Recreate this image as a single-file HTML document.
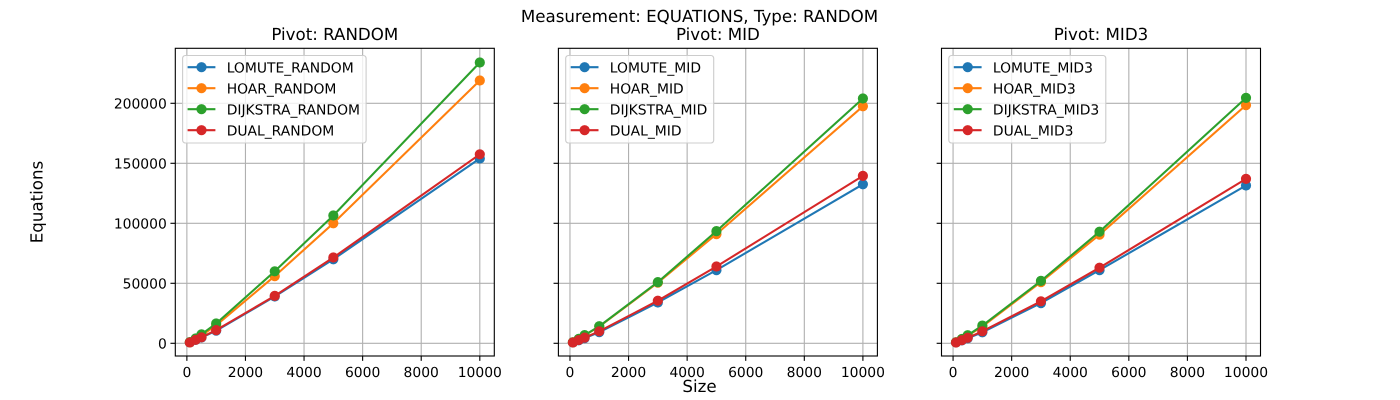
<!DOCTYPE html>
<html>
<head>
<meta charset="utf-8">
<title>Measurement: EQUATIONS, Type: RANDOM</title>
<style>
html,body{margin:0;padding:0;background:#fff;width:1400px;height:400px;overflow:hidden}
svg{display:block}
text{font-family:"DejaVu Sans",sans-serif;fill:#000;text-rendering:geometricPrecision}
</style>
</head>
<body>
<svg id="figure" xmlns="http://www.w3.org/2000/svg" width="1400" height="400" viewBox="0 0 1400 400">
  <text x="699.5" y="22" font-size="16.67" text-anchor="middle">Measurement: EQUATIONS, Type: RANDOM</text>
  <text x="699.5" y="392" font-size="16.67" text-anchor="middle">Size</text>
  <text x="42.5" y="202" font-size="16.67" text-anchor="middle" transform="rotate(-90 42.5 202)">Equations</text>
</svg>
<script>
const sizes = [100, 300, 500, 1000, 3000, 5000, 10000];
const xTicks = [0, 2000, 4000, 6000, 8000, 10000];
const yTicks = [0, 50000, 100000, 150000, 200000];
const colors = ['#1f77b4', '#ff7f0e', '#2ca02c', '#d62728'];

const panelTitles = ['Pivot: RANDOM', 'Pivot: MID', 'Pivot: MID3'];

const randomLabels = ['LOMUTE_RANDOM', 'HOAR_RANDOM', 'DIJKSTRA_RANDOM', 'DUAL_RANDOM'];
const midLabels = ['LOMUTE_MID', 'HOAR_MID', 'DIJKSTRA_MID', 'DUAL_MID'];
const mid3Labels = ['LOMUTE_MID3', 'HOAR_MID3', 'DIJKSTRA_MID3', 'DUAL_MID3'];

const lomuteRandom = [700, 2800, 4800, 10500, 39000, 70000, 154000];
const hoarRandom = [800, 3600, 6500, 15000, 56000, 100000, 219000];
const dijkstraRandom = [1000, 4000, 7500, 16500, 60000, 106500, 234000];
const dualRandom = [700, 2900, 5000, 11000, 39500, 71500, 157500];

const lomuteMid = [600, 2500, 4300, 9300, 34000, 61000, 132500];
const hoarMid = [800, 3500, 6500, 14000, 50500, 91000, 197500];
const dijkstraMid = [900, 3700, 6800, 14200, 51000, 93500, 204000];
const dualMid = [650, 2700, 4700, 10000, 35500, 64000, 139500];

const lomuteMid3 = [600, 2400, 4200, 9200, 33500, 61000, 131500];
const hoarMid3 = [800, 3400, 6300, 14000, 51000, 90500, 198500];
const dijkstraMid3 = [900, 3600, 6700, 14800, 52000, 93000, 204500];
const dualMid3 = [650, 2600, 4600, 10000, 35000, 63000, 137000];

const panelLabels = [randomLabels, midLabels, mid3Labels];
const panelSeries = [
  [lomuteRandom, hoarRandom, dijkstraRandom, dualRandom],
  [lomuteMid, hoarMid, dijkstraMid, dualMid],
  [lomuteMid3, hoarMid3, dijkstraMid3, dualMid3]
];

const axesLefts = [175.3, 558.4, 941.5];
const legendWidths = [183.5, 148, 157];
const axesWidth = 319;
const axesTop = 48.3;
const axesBottom = 356;
const svgNS = 'http://www.w3.org/2000/svg';
const fig = document.getElementById('figure');

function make(tag, parent, attrs, txt) {
  const el = document.createElementNS(svgNS, tag);
  for (const k in attrs) el.setAttribute(k, attrs[k]);
  if (txt !== undefined) el.textContent = txt;
  parent.appendChild(el);
  return el;
}

function xScale(left) {
  const minX = Math.min(...sizes), maxX = Math.max(...sizes);
  const pad = (maxX - minX) * 0.05;
  const lo = minX - pad, hi = maxX + pad;
  return v => left + (v - lo) / (hi - lo) * axesWidth;
}

function yScale(v) {
  return 343.3 - v * 0.0012;
}

panelTitles.forEach((title, p) => {
  const left = axesLefts[p];
  const right = left + axesWidth;
  const x = xScale(left);

  const panel = make('g', fig, {});
  
  

  const titleEl = make('text', panel, {x: left + axesWidth / 2, y: 40, 'font-size': 16.67, 'text-anchor': 'middle'}, title);
  
  

  const bg = make('rect', panel, {x: left, y: axesTop, width: axesWidth, height: axesBottom - axesTop, fill: '#fff'});
  
  

  xTicks.forEach(t => {
    const px = x(t);
    const grid = make('line', panel, {x1: px, x2: px, y1: axesTop, y2: axesBottom, stroke: '#b0b0b0', 'stroke-width': 1.11});
    
    
    const tick = make('line', panel, {x1: px, x2: px, y1: axesBottom, y2: axesBottom + 4.86, stroke: '#000', 'stroke-width': 1.11});
    
    
    const label = make('text', panel, {x: px, y: axesBottom + 21, 'font-size': 13.89, 'text-anchor': 'middle'}, String(t));
    
    
  });

  yTicks.forEach(t => {
    const py = yScale(t);
    const grid = make('line', panel, {x1: left, x2: right, y1: py, y2: py, stroke: '#b0b0b0', 'stroke-width': 1.11});
    
    
    const tick = make('line', panel, {x1: left - 4.86, x2: left, y1: py, y2: py, stroke: '#000', 'stroke-width': 1.11});
    
    
    if (p === 0) {
      const label = make('text', panel, {x: left - 8.5, y: py + 5.2, 'font-size': 13.89, 'text-anchor': 'end'}, String(t));
      
      
    }
  });

  panelSeries[p].forEach((values, s) => {
    const group = make('g', panel, {});
    
    
    const pts = values.map((v, i) => x(sizes[i]).toFixed(2) + ',' + yScale(v).toFixed(2)).join(' ');
    const line = make('polyline', group, {points: pts, fill: 'none', stroke: colors[s], 'stroke-width': 2.08, 'stroke-linejoin': 'round'});
    
    
    values.forEach((v, i) => {
      const dot = make('circle', group, {cx: x(sizes[i]), cy: yScale(v), r: 5.1, fill: colors[s]});
      
      
    });
  });

  const legend = make('g', panel, {});
  
  
  const lx = left + 7;
  const frame = make('rect', legend, {x: lx + 0.3, y: 55.5, width: legendWidths[p], height: 87.5, rx: 2.8, fill: '#fff', 'fill-opacity': 0.8, stroke: '#cccccc', 'stroke-width': 1.11});
  
  
  panelLabels[p].forEach((name, s) => {
    const rowY = 67.2 + s * 21;
    const entry = make('g', legend, {});
    
    
    const swatch = make('line', entry, {x1: lx + 5.3, x2: lx + 33.1, y1: rowY, y2: rowY, stroke: colors[s], 'stroke-width': 2.08});
    
    
    const mark = make('circle', entry, {cx: lx + 19.2, cy: rowY, r: 5.1, fill: colors[s]});
    
    
    const label = make('text', entry, {x: lx + 44.4, y: rowY + 5.1, 'font-size': 13.89}, name);
    
    
  });

  const spine = make('rect', panel, {x: left, y: axesTop, width: axesWidth, height: axesBottom - axesTop, fill: 'none', stroke: '#000', 'stroke-width': 1.11});
  
  
});
</script>
</body>
</html>
